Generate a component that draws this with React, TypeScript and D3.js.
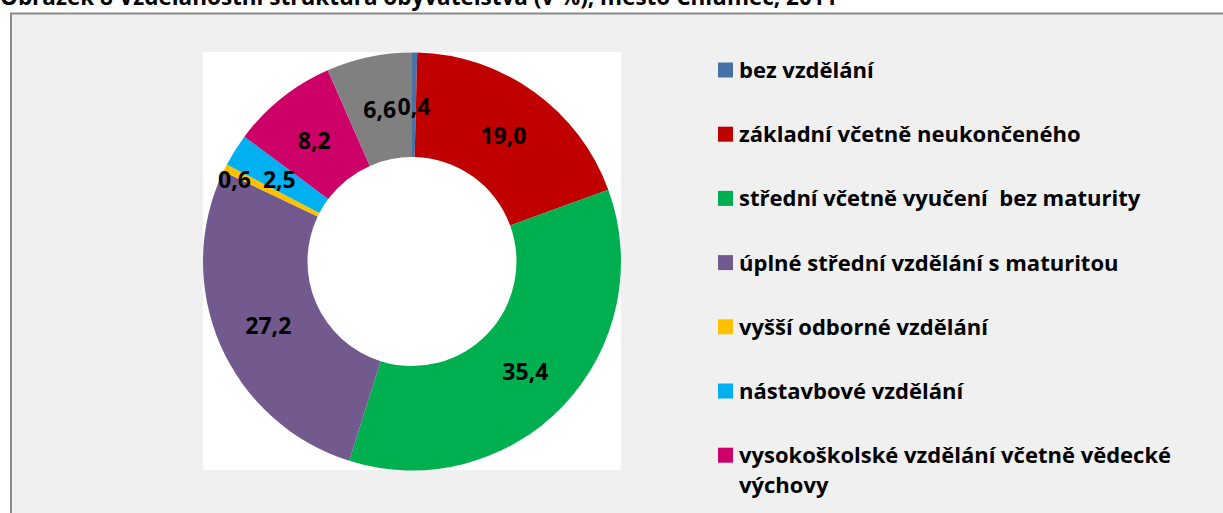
import React, { useEffect, useRef } from "react";
import * as d3 from "d3";

const TITLE = "Obrázek 8 Vzdělanostní struktura obyvatelstva (v %), město Chlumec, 2011";
const categories = [
  "bez vzdělání",
  "základní včetně neukončeného",
  "střední včetně vyučení  bez maturity",
  "úplné střední vzdělání s maturitou",
  "vyšší odborné vzdělání",
  "nástavbové vzdělání",
  "vysokoškolské vzdělání včetně vědecké výchovy",
  "nezjištěno",
];
const values = [0.4, 19.0, 35.4, 27.2, 0.6, 2.5, 8.2, 6.6];
const colors = ["#4672A8", "#C00000", "#00B050", "#725A8F", "#FFC000", "#00B0F0", "#CC0066", "#808080"];

const W = 1223;
const H = 513;
const FONT = "'Open Sans', 'Noto Sans', sans-serif";

export default function App() {
  const ref = useRef<SVGSVGElement | null>(null);

  useEffect(() => {
    const svg = d3.select(ref.current);
    svg.selectAll("*").remove();

    // page background
    svg.append("rect").attr("width", W).attr("height", H).attr("fill", "#ffffff");

    // chart frame
    svg
      .append("rect")
      .attr("x", 11)
      .attr("y", 13.5)
      .attr("width", W + 20)
      .attr("height", H + 20)
      .attr("fill", "#F0F0F0")
      .attr("stroke", "#8A8A8A")
      .attr("stroke-width", 2);

    // title (cut at the top, as in the reference)
    const title = svg
      .append("text")
      .attr("x", 0)
      .attr("y", 5)
      .attr("font-family", FONT)
      .attr("font-weight", "bold")
      .attr("font-size", 22)
      .attr("fill", "#000")
      .text(TITLE);
    const tw = (title.node() as SVGTextElement).getComputedTextLength();
    if (tw > 0) title.attr("font-size", 22 * (838 / tw));

    // plot area
    const plot = { x: 203, y: 52, size: 418 };
    svg
      .append("rect")
      .attr("x", plot.x)
      .attr("y", plot.y)
      .attr("width", plot.size)
      .attr("height", plot.size)
      .attr("fill", "#ffffff");

    const cx = plot.x + plot.size / 2;
    const cy = plot.y + plot.size / 2 + 0.5;
    const outerR = plot.size / 2;
    const innerR = outerR * 0.5;

    const pie = d3
      .pie<number>()
      .value((d) => d)
      .sort(null)
      .startAngle(0)
      .endAngle(2 * Math.PI);
    const arcs = pie(values);
    const arc = d3.arc<d3.PieArcDatum<number>>().innerRadius(innerR).outerRadius(outerR);
    const labelArc = d3
      .arc<d3.PieArcDatum<number>>()
      .innerRadius((innerR + outerR) / 2)
      .outerRadius((innerR + outerR) / 2);

    const g = svg.append("g").attr("transform", `translate(${cx},${cy})`);
    g.selectAll("path.slice")
      .data(arcs)
      .join("path")
      .attr("class", "slice")
      .attr("d", arc as any)
      .attr("fill", (_, i) => colors[i]);

    const fmt = (v: number) => d3.format(".1f")(v).replace(".", ",");

    // data labels
    const labelSel = g
      .selectAll("text.lbl")
      .data(arcs)
      .join("text")
      .attr("class", "lbl")
      .attr("font-family", FONT)
      .attr("font-weight", "bold")
      .attr("font-size", 23)
      .attr("text-anchor", "middle")
      .attr("dominant-baseline", "central")
      .attr("fill", "#000")
      .text((d) => fmt(d.data));

    const pos = arcs.map((a) => labelArc.centroid(a));
    const nodes = labelSel.nodes() as SVGTextElement[];
    const widths = nodes.map((n) => n.getComputedTextLength());
    const lh = 18;
    const gap = 12;
    for (let i = 0; i < pos.length - 1; i++) {
      const j = i + 1;
      const ox = Math.min(pos[i][0] + widths[i] / 2, pos[j][0] + widths[j] / 2) -
        Math.max(pos[i][0] - widths[i] / 2, pos[j][0] - widths[j] / 2);
      const oy = lh - Math.abs(pos[i][1] - pos[j][1]);
      if (ox > 8 && oy > 0) {
        pos[i] = [pos[j][0] - widths[j] / 2 - gap - widths[i] / 2, pos[j][1]];
      }
    }
    labelSel.attr("x", (_, i) => pos[i][0]).attr("y", (_, i) => pos[i][1] + 1);

    // legend
    const leg = { x: 718, y: 70, sq: 15, textX: 739, spacing: 64.2, lineH: 30, maxW: 445 };
    let yCursor = leg.y;
    categories.forEach((name, i) => {
      if (yCursor > H) return;
      const item = svg.append("g");
      item
        .append("rect")
        .attr("x", leg.x)
        .attr("y", yCursor - leg.sq / 2)
        .attr("width", leg.sq)
        .attr("height", leg.sq)
        .attr("fill", colors[i]);
      const t = item
        .append("text")
        .attr("font-family", FONT)
        .attr("font-weight", "bold")
        .attr("font-size", 22)
        .attr("fill", "#000")
        .style("white-space", "pre");
      // word wrap
      const words = name.split(" ");
      let line = "";
      let lineNo = 0;
      let tspan = t.append("tspan").attr("x", leg.textX).attr("y", yCursor + 8);
      words.forEach((w, k) => {
        const test = k === 0 ? w : line + " " + w;
        tspan.text(test);
        if ((tspan.node() as SVGTSpanElement).getComputedTextLength() > leg.maxW && line !== "") {
          tspan.text(line);
          lineNo += 1;
          line = w;
          tspan = t
            .append("tspan")
            .attr("x", leg.textX)
            .attr("y", yCursor + 8 + lineNo * leg.lineH)
            .text(w);
        } else {
          line = test;
        }
      });
      yCursor += leg.spacing + lineNo * leg.lineH;
    });
  }, []);

  return (
    <svg
      ref={ref}
      width={W}
      height={H}
      style={{ position: "absolute", left: 0, top: 0, display: "block" }}
    />
  );
}
